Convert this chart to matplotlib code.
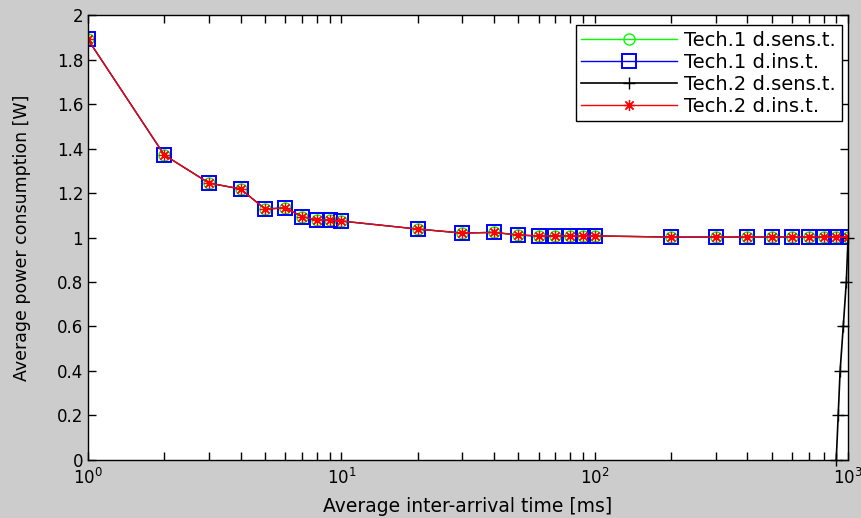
import matplotlib
matplotlib.use('Agg')
import matplotlib.pyplot as plt
from matplotlib.ticker import LogLocator, NullFormatter

plt.rcParams['font.family'] = ['DejaVu Sans']

# ---------- dane
t_ms = [1, 2, 3, 4, 5, 6, 7, 8, 9, 10,
        20, 30, 40, 50, 60, 70, 80, 90, 100,
        200, 300, 400, 500, 600, 700, 800, 900, 1000]
p_w = [1.89, 1.371, 1.245, 1.218, 1.128, 1.133, 1.094, 1.079, 1.079, 1.074,
       1.038, 1.020, 1.023, 1.011, 1.007, 1.007, 1.007, 1.007, 1.007,
       1.002, 1.002, 1.002, 1.002, 1.002, 1.002, 1.002, 1.002, 1.002]

# Tech.2 d.sens.t. - prawie pionowa linia przy 10^3
t2_sens_t = [898, 914, 930, 957, 984, 1000]
t2_sens_p = [0.0, 0.2, 0.4, 0.6, 0.8, 1.0]

labels = ['Tech.1 d.sens.t.', 'Tech.1 d.ins.t.', 'Tech.2 d.sens.t.', 'Tech.2 d.ins.t.']
ytick_vals = [0, 0.2, 0.4, 0.6, 0.8, 1, 1.2, 1.4, 1.6, 1.8, 2]
ytick_txt = ['0', '0.2', '0.4', '0.6', '0.8', '1', '1.2', '1.4', '1.6', '1.8', '2']

asterisk = (8, 2, 0)  # jak '*' w matlabie

fig = plt.figure(figsize=(8.61, 5.18), dpi=100, facecolor='#cccccc')
ax = fig.add_axes([0.1022, 0.112, 0.8828, 0.859])

ax.plot(t_ms, p_w, color='#00ff00', marker='o', ms=8, mfc='none', mew=1, lw=1, label=labels[0])
ax.plot(t_ms, p_w, color='blue', marker='s', ms=10.5, mfc='none', mew=1.4, lw=1, label=labels[1])
ax.plot(t2_sens_t, t2_sens_p, color='black', marker='+', ms=8, mew=1, lw=1.2, label=labels[2], clip_on=False)
ax.plot(t_ms, p_w, color='red', marker=asterisk, ms=8, mew=0.9, lw=1, label=labels[3])

ax.set_xscale('log')
ax.set_xlim(1, 1000)
ax.set_ylim(0, 2)
ax.set_yticks(ytick_vals)
ax.set_yticklabels(ytick_txt)
ax.xaxis.set_minor_locator(LogLocator(base=10, subs=range(2, 10)))
ax.xaxis.set_minor_formatter(NullFormatter())

ax.tick_params(which='both', direction='in', top=True, right=True, labelsize=12, width=1, length=6)
ax.tick_params(axis='x', pad=6)
for s in ax.spines.values():
    s.set_linewidth(1)

ax.set_xlabel('Average inter-arrival time [ms]', fontsize=13.5)
ax.xaxis.set_label_coords(0.5, -0.083)
ax.set_ylabel('Average power consumption [W]', fontsize=12.5)
ax.yaxis.set_label_coords(-0.075, 0.5)

leg = ax.legend(loc='upper right', bbox_to_anchor=(0.992, 0.9775), borderaxespad=0,
                fontsize=14, fancybox=False, framealpha=1, edgecolor='black',
                handlelength=4.9, handletextpad=0.4, labelspacing=0.15, borderpad=0.3)
leg.get_frame().set_linewidth(1)

fig.savefig('out.png', dpi=100, facecolor=fig.get_facecolor())
